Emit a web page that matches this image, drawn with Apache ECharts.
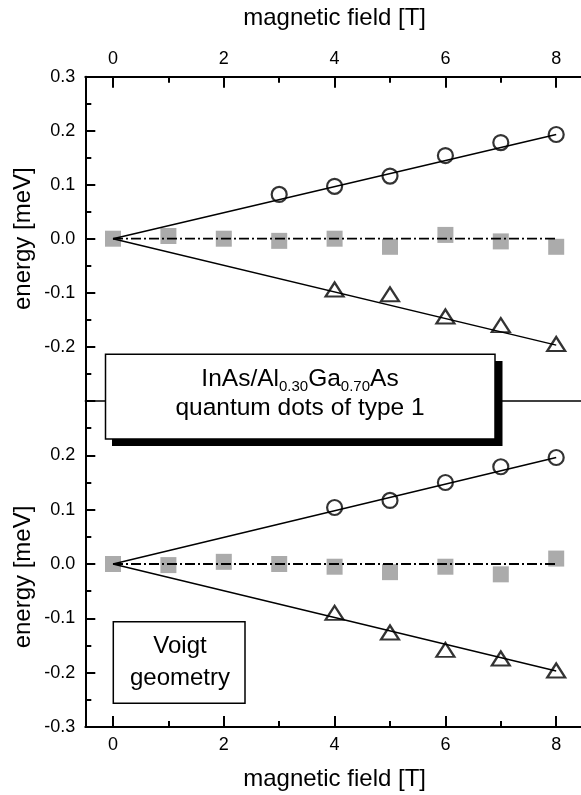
<!DOCTYPE html>
<html>
<head>
<meta charset="utf-8">
<script src="https://cdn.jsdelivr.net/npm/echarts@6/dist/echarts.min.js"></script>
<style>
html,body{margin:0;padding:0;background:#fff;}
#c{width:581px;height:795px;}
</style>
</head>
<body>
<div id="c"></div>
<script>
// ---- data ----
const fieldAll = [0, 1, 2, 3, 4, 5, 6, 7, 8];
const xTickLabels = [0, 2, 4, 6, 8];
const xMinorTicks = [1, 3, 5, 7];

// upper panel
const topSquares = [0, 0.005, 0, -0.004, 0, -0.015, 0.007, -0.005, -0.015];
const topCircleField = [3, 4, 5, 6, 7, 8];
const topCircles = [0.082, 0.097, 0.116, 0.154, 0.178, 0.193];
const topTriField = [4, 5, 6, 7, 8];
const topTriangles = [-0.094, -0.103, -0.144, -0.160, -0.195];
const fitField = [0, 8];
const topFitUpper = [0, 0.193];
const topFitLower = [0, -0.197];
const zeroLine = [0, 0];

// lower panel
const botSquares = [0, -0.002, 0.004, 0, -0.005, -0.015, -0.005, -0.019, 0.010];
const botCircleField = [4, 5, 6, 7, 8];
const botCircles = [0.104, 0.117, 0.150, 0.179, 0.196];
const botTriField = [4, 5, 6, 7, 8];
const botTriangles = [-0.090, -0.126, -0.158, -0.174, -0.196];
const botFitUpper = [0, 0.196];
const botFitLower = [0, -0.197];

// ---- helpers ----
const FONT = "'Liberation Sans', Arial, Helvetica, sans-serif";
const pairs = (xs, ys) => xs.map((x, i) => [x, ys[i]]);
const fmtY = v => { let s = Number(v).toFixed(1); return s === '-0.0' ? '0.0' : s; };

function xMain(grid, pos, withName) {
  return {
    type: 'value', gridIndex: grid, position: pos, min: -0.5, max: 8.5,
    splitLine: { show: false },
    axisLine: { show: true, onZero: false, lineStyle: { color: '#000', width: 2 } },
    axisTick: { show: true, inside: true, length: 11, customValues: xTickLabels, lineStyle: { color: '#000', width: 2 } },
    axisLabel: { show: true, customValues: xTickLabels, margin: 9, color: '#000', fontSize: 18, fontFamily: FONT, formatter: v => String(Math.round(v)) },
    name: withName ? 'magnetic field [T]' : '',
    nameLocation: 'middle', nameGap: pos === 'top' ? 46 : 40, nameMoveOverlap: false,
    nameTextStyle: { color: '#000', fontSize: 24, fontFamily: FONT }
  };
}
function xMinor(grid, pos) {
  return {
    type: 'value', gridIndex: grid, position: pos, min: -0.5, max: 8.5,
    splitLine: { show: false },
    axisLine: { show: false, onZero: false },
    axisTick: { show: true, inside: true, length: 6, customValues: xMinorTicks, lineStyle: { color: '#000', width: 2 } },
    axisLabel: { show: false }
  };
}
function yAx(grid, hideMin, hideMax, namePad) {
  return {
    type: 'value', gridIndex: grid, position: 'left', min: -0.3, max: 0.3, interval: 0.1,
    splitLine: { show: false },
    axisLine: { show: true, onZero: false, lineStyle: { color: '#000', width: 2 } },
    axisTick: { show: true, inside: true, length: 10, lineStyle: { color: '#000', width: 2 } },
    minorTick: { show: true, splitNumber: 2, length: 6, lineStyle: { color: '#000', width: 2 } },
    axisLabel: { show: true, margin: 10, color: '#000', fontSize: 18, fontFamily: FONT, formatter: fmtY,
                 showMinLabel: !hideMin, showMaxLabel: !hideMax },
    name: 'energy [meV]', nameLocation: 'middle', nameGap: 50, nameMoveOverlap: false,
    nameTextStyle: { color: '#000', fontSize: 24, fontFamily: FONT, padding: namePad }
  };
}

function panelSeries(xi, yi, squares, cF, circles, tF, tris, fitU, fitL) {
  return [
    { type: 'scatter', xAxisIndex: xi, yAxisIndex: yi, data: pairs(fieldAll, squares), symbol: 'rect', symbolSize: 16,
      itemStyle: { color: '#969696' }, z: 2, silent: true },
    { type: 'line', xAxisIndex: xi, yAxisIndex: yi, data: pairs(fitField, zeroLine), symbol: 'none',
      lineStyle: { color: '#000', width: 1.8, type: [10, 3, 2, 3] }, z: 3, silent: true },
    { type: 'line', xAxisIndex: xi, yAxisIndex: yi, data: pairs(fitField, fitU), symbol: 'none',
      lineStyle: { color: '#000', width: 1.4 }, z: 3, silent: true },
    { type: 'line', xAxisIndex: xi, yAxisIndex: yi, data: pairs(fitField, fitL), symbol: 'none',
      lineStyle: { color: '#000', width: 1.4 }, z: 3, silent: true },
    { type: 'scatter', xAxisIndex: xi, yAxisIndex: yi, data: pairs(cF, circles), symbol: 'circle', symbolSize: 15,
      itemStyle: { color: 'rgba(0,0,0,0)', borderColor: '#000', borderWidth: 2.2 }, z: 4, silent: true },
    { type: 'scatter', xAxisIndex: xi, yAxisIndex: yi, data: pairs(tF, tris), symbol: 'triangle', symbolSize: [18, 14],
      itemStyle: { color: 'rgba(0,0,0,0)', borderColor: '#000', borderWidth: 2.2 }, z: 4, silent: true }
  ];
}

const chart = echarts.init(document.getElementById('c'), null, { renderer: 'canvas' });
chart.setOption({
  animation: false,
  backgroundColor: '#fff',
  textStyle: { fontFamily: FONT },
  grid: [
    { left: 85.3, top: 76.7, width: 498.6, height: 324, containLabel: false, outerBoundsMode: 'none' },
    { left: 85.3, top: 401, width: 498.6, height: 326, containLabel: false, outerBoundsMode: 'none' }
  ],
  xAxis: [
    xMain(0, 'top', true),
    xMinor(0, 'top'),
    { type: 'value', gridIndex: 0, position: 'bottom', min: -0.5, max: 8.5, splitLine: { show: false },
      axisLine: { show: true, onZero: false, lineStyle: { color: '#000', width: 1.5 } },
      axisTick: { show: false }, axisLabel: { show: false } },
    xMain(1, 'bottom', true),
    xMinor(1, 'bottom')
  ],
  yAxis: [
    yAx(0, true, false, [0, 0, 0, 0]),
    yAx(1, false, true, [0, 26, 0, 0])
  ],
  series: [].concat(
    panelSeries(0, 0, topSquares, topCircleField, topCircles, topTriField, topTriangles, topFitUpper, topFitLower),
    panelSeries(3, 1, botSquares, botCircleField, botCircles, botTriField, botTriangles, botFitUpper, botFitLower)
  ),
  graphic: [
    { type: 'rect', z: 100, silent: true, shape: { x: 112, y: 361, width: 390.5, height: 85 }, style: { fill: '#000' } },
    { type: 'rect', z: 101, silent: true, shape: { x: 105.5, y: 354.3, width: 389.5, height: 84.7 },
      style: { fill: '#fff', stroke: '#000', lineWidth: 1.5 } },
    { type: 'text', z: 102, silent: true, x: 300, y: 379.7,
      style: { text: '{m|InAs/Al}{s|0.30}{m|Ga}{s|0.70}{m|As}', align: 'center', verticalAlign: 'middle',
        rich: {
          m: { fontSize: 24.5, fontFamily: FONT, fill: '#000', lineHeight: 30 },
          s: { fontSize: 15, fontFamily: FONT, fill: '#000', lineHeight: 15, verticalAlign: 'bottom' }
        } } },
    { type: 'text', z: 102, silent: true, x: 300, y: 408.3,
      style: { text: 'quantum dots of type 1', align: 'center', verticalAlign: 'middle', fontSize: 24.5, fontFamily: FONT, fill: '#000' } },
    { type: 'rect', z: 101, silent: true, shape: { x: 113.3, y: 621.7, width: 131.7, height: 81.6 },
      style: { fill: '#fff', stroke: '#000', lineWidth: 1.5 } },
    { type: 'text', z: 102, silent: true, x: 180, y: 646.6,
      style: { text: 'Voigt', align: 'center', verticalAlign: 'middle', fontSize: 24, fontFamily: FONT, fill: '#000' } },
    { type: 'text', z: 102, silent: true, x: 180, y: 678,
      style: { text: 'geometry', align: 'center', verticalAlign: 'middle', fontSize: 24, fontFamily: FONT, fill: '#000' } }
  ]
});
</script>
</body>
</html>
